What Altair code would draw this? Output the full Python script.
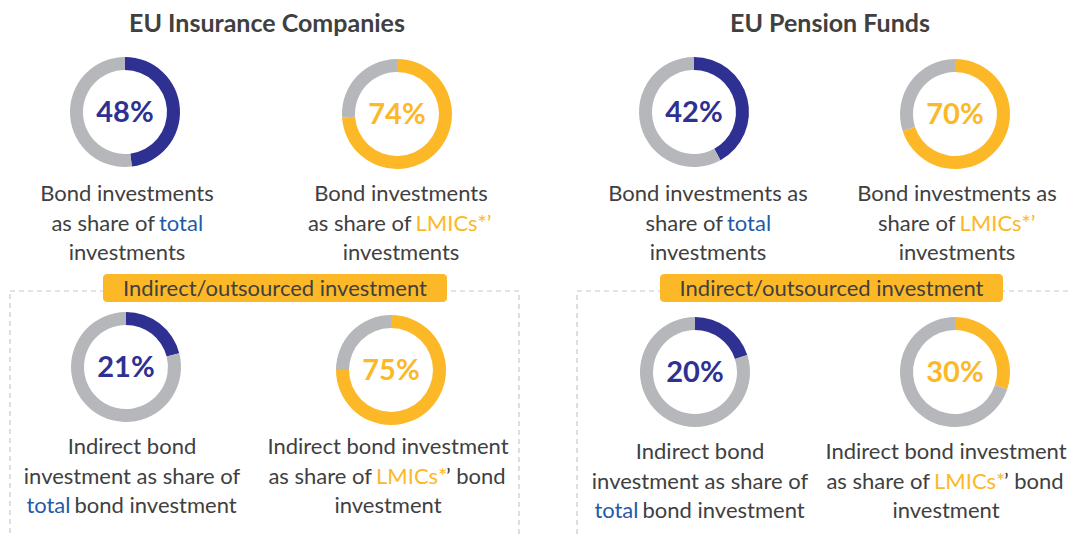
import math
import altair as alt
import pandas as pd

# ---------------- data ----------------
groups = ["EU Insurance Companies", "EU Pension Funds"]
group_of = [0, 0, 1, 1, 0, 0, 1, 1]
kinds = ["total", "lmic", "total", "lmic", "total", "lmic", "total", "lmic"]
shares = [48, 74, 42, 70, 21, 75, 20, 30]
box_label = "Indirect/outsourced investment"

# caption lines, each a list of (text, style) segments
captions = [
    [[("Bond investments", "plain")], [("as share of", "plain"), ("total", "total")], [("investments", "plain")]],
    [[("Bond investments", "plain")], [("as share of", "plain"), ("LMICs*’", "lmic")], [("investments", "plain")]],
    [[("Bond investments as", "plain")], [("share of", "plain"), ("total", "total")], [("investments", "plain")]],
    [[("Bond investments as", "plain")], [("share of", "plain"), ("LMICs*’", "lmic")], [("investments", "plain")]],
    [[("Indirect bond", "plain")], [("investment as share of", "plain")], [("total", "total"), ("bond investment", "plain")]],
    [[("Indirect bond investment", "plain")], [("as share of", "plain"), ("LMICs*", "lmic"), ("’ bond", "plain")], [("investment", "plain")]],
    [[("Indirect bond", "plain")], [("investment as share of", "plain")], [("total", "total"), ("bond investment", "plain")]],
    [[("Indirect bond investment", "plain")], [("as share of", "plain"), ("LMICs*", "lmic"), ("’ bond", "plain")], [("investment", "plain")]],
]

# ---------------- styles ----------------
NAVY = "#2E3192"
YELLOW = "#FDB827"
GRAY = "#B5B7BA"
TEXT = "#404040"
BLUE = "#1F5BAA"
DASH = "#C8C8C8"
FONT = "Lato"
CAP_SIZE = 22
kind_color = {"total": NAVY, "lmic": YELLOW}
seg_color = {"plain": TEXT, "total": BLUE, "lmic": YELLOW}

# ---------------- layout (page pixels) ----------------
OFF = 8
W, H = 1062, 529
donut_cx = [125, 397, 694, 955, 126, 391, 695, 955]
donut_cy = [112, 114, 112, 114, 367, 370, 372, 372]
cap_cx = [127, 401, 708, 957, 132, 388, 700, 946]
cap_base = [201, 201, 201, 201, 454, 454, 459, 459]
LINE = 29.5
split_x = [157, 413.5, 725, 957.5, 72.5, 374, 640.5, 932]
third_x = [None, None, None, None, None, 446, None, 1004]
title_cx = [267, 830]
TITLE_BASE = 32
label_box = [(103, 447), (660, 1003)]
LABEL_Y = (274, 302)
dash_box = [(10, 519, 291, 560), (577, 1090, 291, 543)]

# ---------------- tables ----------------
arc_rows = []
for i, v in enumerate(shares):
    cx, cy = donut_cx[i] - OFF, donut_cy[i] - OFF
    arc_rows.append(dict(cx=cx, cy=cy, start=0, end=v, fill=kind_color[kinds[i]]))
    arc_rows.append(dict(cx=cx, cy=cy, start=v, end=100, fill=GRAY))
arcs = pd.DataFrame(arc_rows)

pct = pd.DataFrame(dict(
    x=[c - OFF for c in donut_cx],
    y=[c - OFF + 10 for c in donut_cy],
    label=[f"{v}%" for v in shares],
    fill=[kind_color[k] for k in kinds],
))

center_rows, left_rows, right_rows = [], [], []
for i, lines in enumerate(captions):
    for j, segs in enumerate(lines):
        y = cap_base[i] + j * LINE - OFF
        if len(segs) == 1:
            t, s = segs[0]
            center_rows.append(dict(x=cap_cx[i] - OFF, y=y, label=t, fill=seg_color[s]))
        else:
            t, s = segs[0]
            right_rows.append(dict(x=split_x[i] - 2 - OFF, y=y, label=t, fill=seg_color[s]))
            t, s = segs[1]
            left_rows.append(dict(x=split_x[i] + 2 - OFF, y=y, label=t, fill=seg_color[s]))
            if len(segs) > 2:
                t, s = segs[2]
                left_rows.append(dict(x=third_x[i] - OFF, y=y, label=t, fill=seg_color[s]))
cap_c = pd.DataFrame(center_rows)
cap_l = pd.DataFrame(left_rows)
cap_r = pd.DataFrame(right_rows)

titles = pd.DataFrame(dict(x=[c - OFF for c in title_cx], y=[TITLE_BASE - OFF] * 2, label=groups))
boxes = pd.DataFrame(dict(
    x=[a - OFF for a, b in label_box], x2=[b - OFF for a, b in label_box],
    y=[LABEL_Y[0] - OFF] * 2, y2=[LABEL_Y[1] - OFF] * 2,
    label=[box_label] * 2,
    tx=[(a + b) / 2 - OFF for a, b in label_box],
    ty=[LABEL_Y[1] - 6 - OFF] * 2,
))
dashes = pd.DataFrame(dict(
    x=[d[0] - OFF for d in dash_box], x2=[d[1] - OFF for d in dash_box],
    y=[d[2] - OFF for d in dash_box], y2=[d[3] - OFF for d in dash_box],
))

X = lambda f: alt.X(f, scale=None, axis=None)
Y = lambda f: alt.Y(f, scale=None, axis=None)

dash_layer = alt.Chart(dashes).mark_rect(filled=False, stroke=DASH, strokeWidth=1.2, strokeDash=[5, 4]).encode(
    x=X("x:Q"), x2="x2:Q", y=Y("y:Q"), y2="y2:Q")

box_layer = alt.Chart(boxes).mark_rect(fill=YELLOW, cornerRadius=4).encode(
    x=X("x:Q"), x2="x2:Q", y=Y("y:Q"), y2="y2:Q")

box_text = alt.Chart(boxes).mark_text(font=FONT, fontSize=22, color=TEXT, align="center", baseline="alphabetic").encode(
    x=X("tx:Q"), y=Y("ty:Q"), text="label:N")

arc_layer = alt.Chart(arcs).mark_arc(innerRadius=42, outerRadius=55).encode(
    x=X("cx:Q"), y=Y("cy:Q"),
    theta=alt.Theta("start:Q", scale=alt.Scale(domain=[0, 100], range=[0, 2 * math.pi])),
    theta2="end:Q",
    color=alt.Color("fill:N", scale=None),
)

pct_layer = alt.Chart(pct).mark_text(font=FONT, fontSize=29, fontWeight="bold", align="center", baseline="alphabetic").encode(
    x=X("x:Q"), y=Y("y:Q"), text="label:N", color=alt.Color("fill:N", scale=None))

def text_layer(df, align):
    return alt.Chart(df).mark_text(font=FONT, fontSize=CAP_SIZE, align=align, baseline="alphabetic").encode(
        x=X("x:Q"), y=Y("y:Q"), text="label:N", color=alt.Color("fill:N", scale=None))

title_layer = alt.Chart(titles).mark_text(font=FONT, fontSize=25, fontWeight="bold", color=TEXT,
                                          align="center", baseline="alphabetic").encode(
    x=X("x:Q"), y=Y("y:Q"), text="label:N")

chart = alt.layer(
    dash_layer, box_layer, box_text, arc_layer, pct_layer,
    text_layer(cap_c, "center"), text_layer(cap_l, "left"), text_layer(cap_r, "right"),
    title_layer,
).properties(width=W, height=H, padding=0, autosize=alt.AutoSizeParams(type="none")
).configure_view(stroke=None).resolve_scale(color="independent")

chart.save("out.html", embed_options={"renderer": "svg", "actions": False})
